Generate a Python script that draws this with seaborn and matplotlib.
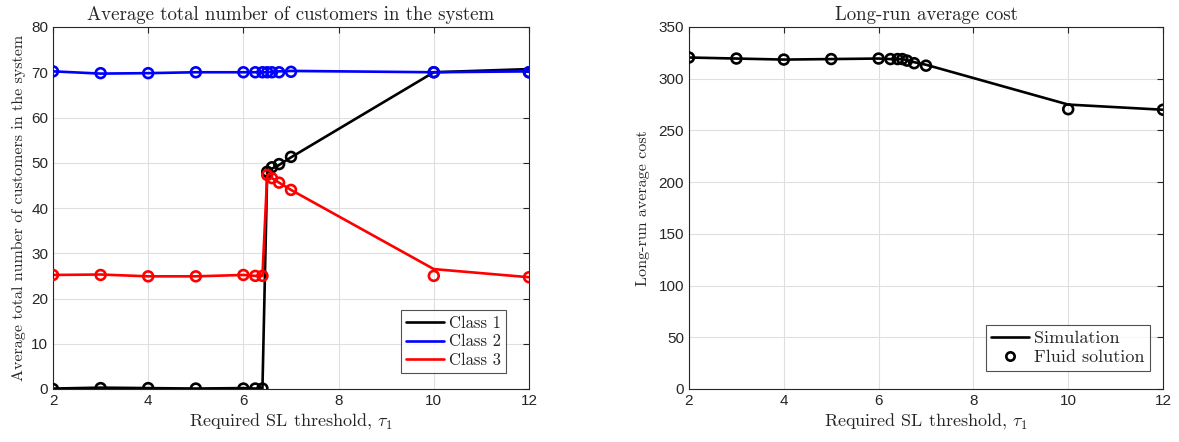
import matplotlib
matplotlib.use("Agg")
import matplotlib.pyplot as plt
import seaborn as sns
import pandas as pd
from matplotlib.lines import Line2D

# ---- data ----
tau = [2, 3, 4, 5, 6, 6.25, 6.4, 6.5, 6.6, 6.75, 7, 10, 12]

sim_class1 = [0.1, 0.3, 0.2, 0.1, 0.2, 0.1, 0.1, 48.0, 48.7, 49.5, 51.2, 70.0, 70.7]
sim_class2 = [70.2, 69.7, 69.8, 70.0, 70.0, 70.0, 70.0, 70.0, 70.1, 70.2, 70.3, 70.0, 70.2]
sim_class3 = [25.2, 25.3, 24.9, 24.9, 25.2, 25.0, 25.0, 47.3, 46.6, 45.6, 44.0, 26.5, 24.7]

fl_class1 = [0.0, 0.2, 0.2, 0.1, 0.1, 0.1, 0.1, 48.0, 49.0, 49.7, 51.3, 70.0, 70.0]
fl_class2 = [70.2, 69.8, 69.8, 70.0, 70.0, 70.0, 70.0, 70.0, 70.0, 70.0, 70.1, 70.0, 70.0]
fl_class3 = [25.2, 25.2, 24.9, 24.9, 25.2, 25.0, 25.0, 47.3, 46.6, 45.6, 44.0, 25.0, 24.7]

sim_cost = [320.5, 319.5, 318.5, 319.0, 319.5, 319.0, 319.0, 319.0, 318.0, 316.0, 313.5, 275.0, 270.0]
fl_cost = [320.5, 319.5, 318.5, 319.0, 319.5, 319.0, 319.0, 319.0, 317.5, 315.0, 312.6, 270.5, 270.0]

class_names = ["Class 1", "Class 2", "Class 3"]
class_colors = ["#000000", "#0000ff", "#ff0000"]

sns.set_style("white")
plt.rcParams["font.family"] = ["Liberation Sans", "DejaVu Sans"]
plt.rcParams["mathtext.fontset"] = "cm"

SERIF = ["cmr10", "DejaVu Serif"]

fig = plt.figure(figsize=(11.79, 4.42), dpi=100)
ax1 = fig.add_axes([53/1179, 53/442, 476/1179, 362/442])
ax2 = fig.add_axes([689/1179, 53/442, 474/1179, 362/442])

def style(ax, yticks, ylim):
    ax.set_xlim(2, 12)
    ax.set_ylim(*ylim)
    ax.set_xticks([2, 4, 6, 8, 10, 12])
    ax.set_yticks(yticks)
    ax.grid(True, color="#dfdfdf", linewidth=0.8)
    ax.set_axisbelow(True)
    for sp in ax.spines.values():
        sp.set_color("#262626")
        sp.set_linewidth(0.8)
    ax.tick_params(direction="in", length=4, width=0.8, labelsize=11,
                   colors="#262626", top=True, right=True, labelcolor="#262626")
    ax.set_xlabel("Required SL threshold, $\\tau_1$", fontsize=13, labelpad=2,
                  family=SERIF)

def legend(ax, handles, labels, anchor, size, hl):
    leg = ax.legend(handles, labels, loc="lower right", bbox_to_anchor=anchor,
                    bbox_transform=ax.transAxes, borderaxespad=0,
                    prop={"family": SERIF, "size": size}, frameon=True, fancybox=False,
                    edgecolor="#262626", handlelength=hl, handletextpad=0.3,
                    borderpad=0.3, labelspacing=0.2)
    leg.get_frame().set_linewidth(0.8)
    return leg

# ---- left panel ----
sims = [sim_class1, sim_class2, sim_class3]
fls = [fl_class1, fl_class2, fl_class3]
for name, col, s, f in zip(class_names, class_colors, sims, fls):
    df_s = pd.DataFrame({"tau": tau, "val": s})
    df_f = pd.DataFrame({"tau": tau, "val": f})
    sns.lineplot(data=df_s, x="tau", y="val", ax=ax1, color=col, linewidth=1.9,
                 estimator=None, sort=False, zorder=2)
    sns.scatterplot(data=df_f, x="tau", y="val", ax=ax1, marker="o", s=50,
                    facecolors="none", edgecolor=col, linewidth=1.9, zorder=3)
style(ax1, range(0, 81, 10), (0, 80))
ax1.set_title("Average total number of customers in the system", fontsize=13.6,
              pad=5, family=SERIF)
ax1.set_ylabel("Average total number of customers in the system", fontsize=11.5,
               labelpad=4, family=SERIF)
handles = [Line2D([], [], color=c, linewidth=1.9) for c in class_colors]
legend(ax1, handles, class_names, (0.952, 0.044), 12, 2.3)

# ---- right panel ----
df_s = pd.DataFrame({"tau": tau, "val": sim_cost})
df_f = pd.DataFrame({"tau": tau, "val": fl_cost})
sns.lineplot(data=df_s, x="tau", y="val", ax=ax2, color="black", linewidth=1.9,
             estimator=None, sort=False, zorder=2)
sns.scatterplot(data=df_f, x="tau", y="val", ax=ax2, marker="o", s=50,
                facecolors="none", edgecolor="black", linewidth=1.9, zorder=3)
style(ax2, range(0, 351, 50), (0, 350))
ax2.set_title("Long-run average cost", fontsize=13.6, pad=5, family=SERIF)
ax2.set_ylabel("Long-run average cost", fontsize=11.5, labelpad=6, family=SERIF)
h2 = [Line2D([], [], color="black", linewidth=1.9),
      Line2D([], [], color="black", linestyle="", marker="o", markersize=6,
             markerfacecolor="none", markeredgewidth=1.9)]
legend(ax2, h2, ["Simulation", "Fluid solution"], (0.973, 0.05), 13, 2.1)

fig.savefig("out.png", dpi=100)
